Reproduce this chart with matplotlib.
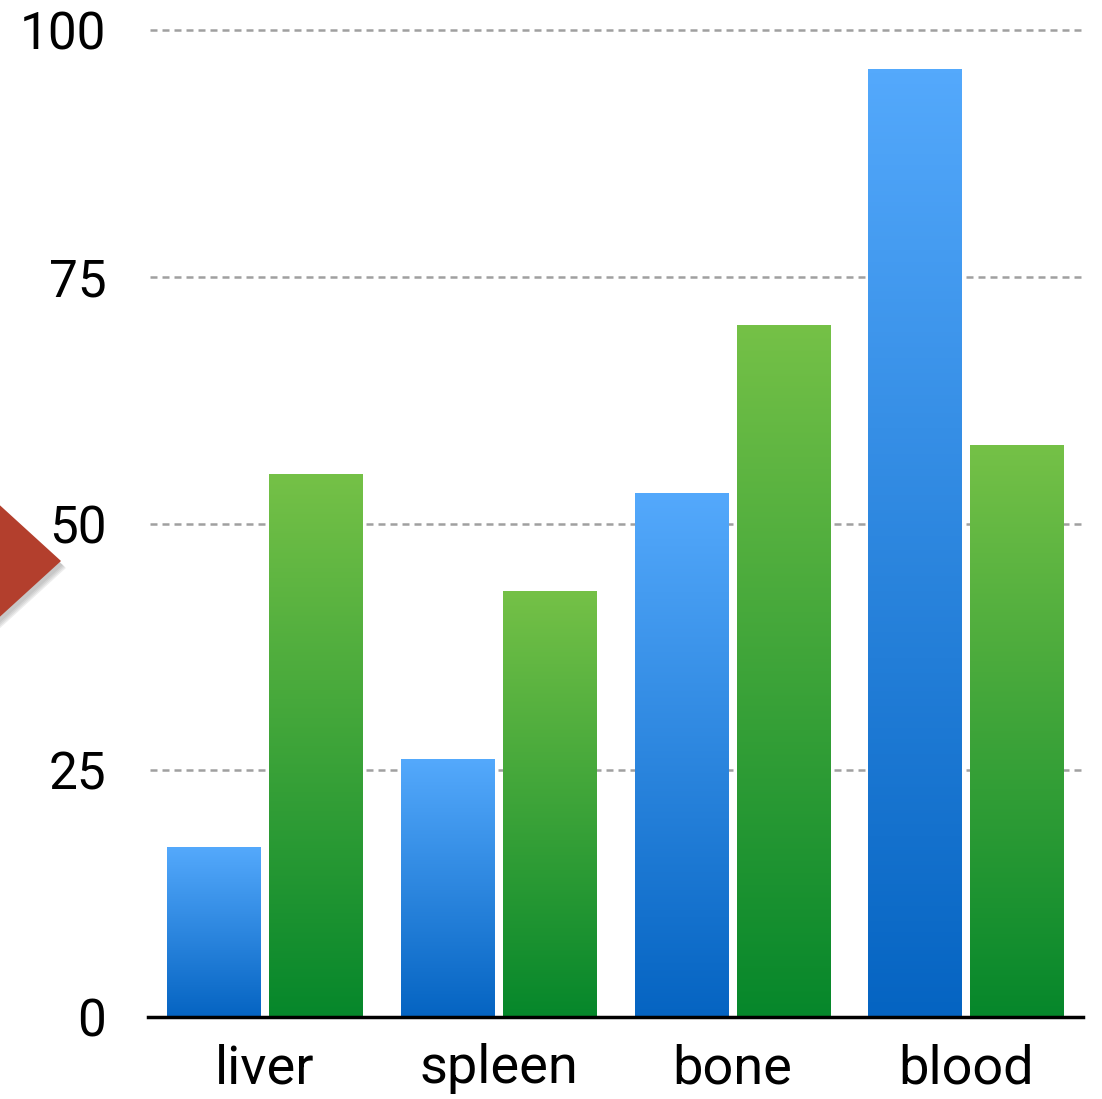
import numpy as np
import matplotlib.pyplot as plt
from matplotlib.colors import LinearSegmentedColormap
from matplotlib.patches import Polygon

# Values per organ
organs = ['liver', 'spleen', 'bone', 'blood']
series_a = [17.2, 26.1, 53.1, 96.0]
series_b = [55.0, 43.2, 70.1, 58.0]
yticks = [0, 25, 50, 75, 100]

blue_cmap = LinearSegmentedColormap.from_list('blue_grad', ['#0564c2', '#54a9fc'])
green_cmap = LinearSegmentedColormap.from_list('green_grad', ['#06872b', '#75c147'])

plt.rcParams['font.family'] = ['Roboto', 'DejaVu Sans']

fig = plt.figure(figsize=(11.02, 10.99), dpi=100)
ax = fig.add_axes([148 / 1102, 1 - 1017 / 1099, (1083 - 148) / 1102, (1017 - 30) / 1099])

x = np.arange(len(organs))
width = 0.40
offset = 0.218

grad = np.linspace(0, 1, 256).reshape(-1, 1)


def gradient_bars(xs, heights, cmap):
    bars = ax.bar(xs, heights, width=width, facecolor='none', edgecolor='none', zorder=2)
    for b in bars:
        x0, y0 = b.get_x(), b.get_y()
        w, h = b.get_width(), b.get_height()
        im = ax.imshow(grad, cmap=cmap, aspect='auto', origin='lower',
                       extent=[x0, x0 + w, y0, y0 + h], zorder=2)
        im.set_clip_path(b)
    return bars


gradient_bars(x - offset, series_a, blue_cmap)
gradient_bars(x + offset, series_b, green_cmap)

ax.set_xlim(-0.5, 3.5)
ax.set_ylim(0, 100)

# dashed grid behind the bars
for t in yticks[1:]:
    ax.axhline(t, color='#a0a0a0', lw=1.8, ls=(0, (2.8, 2.0)), zorder=1, clip_on=False,
               xmin=2 / 935)

for s in ['top', 'right', 'left']:
    ax.spines[s].set_visible(False)
ax.spines['bottom'].set_linewidth(2.5)
ax.spines['bottom'].set_zorder(3)

ax.set_yticks(yticks)
ax.set_xticks(x)
ax.set_xticklabels(organs)
ax.tick_params(axis='both', length=0)
ax.tick_params(axis='y', pad=30, labelsize=37)
ax.tick_params(axis='x', pad=19, labelsize=39)

# red pointer at left edge, with a soft shadow
pts = np.array([[-30, 478], [61, 561], [-30, 644]], dtype=float)


def to_fig(p, dx=0, dy=0):
    return np.column_stack([(p[:, 0] + dx) / 1102, 1 - (p[:, 1] + dy) / 1099])


for i, a in enumerate([0.05, 0.05, 0.06, 0.07]):
    fig.patches.append(Polygon(to_fig(pts, 2 + i, 4 + i), closed=True, transform=fig.transFigure,
                               facecolor='black', edgecolor='none', alpha=a))
fig.patches.append(Polygon(to_fig(pts), closed=True, transform=fig.transFigure,
                           facecolor='#b33f2d', edgecolor='none'))

fig.savefig('out.png', dpi=100)
